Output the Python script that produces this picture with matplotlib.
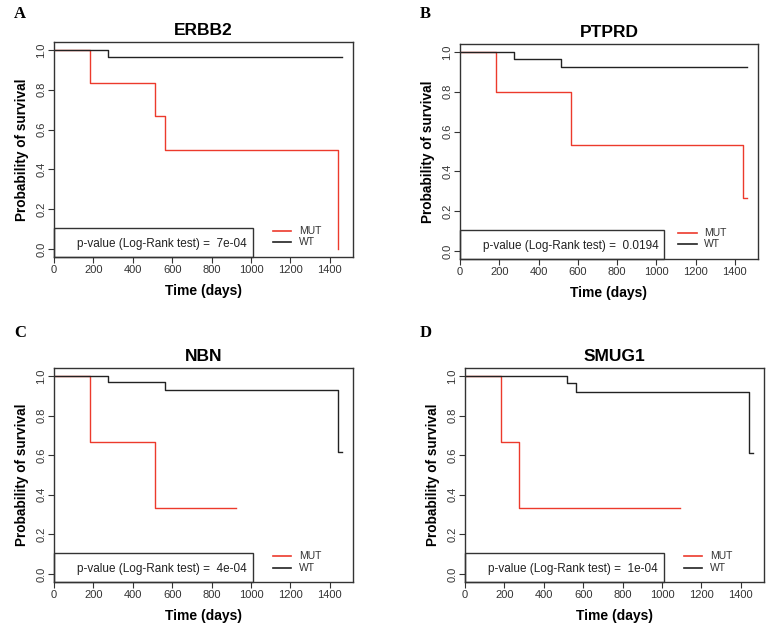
"""
Kaplan-Meier curves, MUT vs WT, four genes
"""

import matplotlib
matplotlib.use('Agg')
from matplotlib import pyplot as plt
from matplotlib.patches import Rectangle

plt.rcParams['font.family'] = ['Liberation Sans', 'DejaVu Sans']

genes = ['ERBB2', 'PTPRD', 'NBN', 'SMUG1']
letters = ['A', 'B', 'C', 'D']
pvalues = ['7e-04', '0.0194', '4e-04', '1e-04']

# step times / survival values
mut_time = [
    [0, 182, 515, 563, 1444],
    [0, 182, 563, 1444, 1460],
    [0, 182, 515, 922],
    [0, 182, 275, 1090],
]
mut_surv = [
    [1.0, 0.833, 0.667, 0.5, 0.0],
    [1.0, 0.8, 0.533, 0.267, 0.267],
    [1.0, 0.667, 0.333, 0.333],
    [1.0, 0.667, 0.333, 0.333],
]
wt_time = [
    [0, 273, 1462],
    [0, 273, 515, 1462],
    [0, 273, 563, 1441, 1461],
    [0, 516, 563, 1443, 1461],
]
wt_surv = [
    [1.0, 0.964, 0.964],
    [1.0, 0.965, 0.926, 0.926],
    [1.0, 0.967, 0.927, 0.617, 0.617],
    [1.0, 0.963, 0.921, 0.612, 0.612],
]

xticks = [0, 200, 400, 600, 800, 1000, 1200, 1400]
yticks = [0.0, 0.2, 0.4, 0.6, 0.8, 1.0]

# layout (figure pixels): left, top, right, bottom
boxes = [(54, 42, 353, 257), (460, 44, 758, 259),
         (54, 368, 353, 582), (465, 368, 764, 582)]
letter_pos = [(14, 14), (420, 14), (14, 333), (420, 333)]
pbox_right = [1010, 1040, 1008, 1008]

W, H = 771, 628
RED = '#ec3a2c'
DARK = '#222222'

fig = plt.figure(figsize=(W / 100, H / 100), dpi=100)

for i, gene in enumerate(genes):
    l, t, r, b = boxes[i]
    ax = fig.add_axes([l / W, 1 - b / H, (r - l) / W, (b - t) / H])

    ax.step(mut_time[i], mut_surv[i], where='post', color=RED, lw=1.0)
    ax.step(wt_time[i], wt_surv[i], where='post', color=DARK, lw=1.0)

    ax.set_xlim(0, 1518)
    ax.set_ylim(-0.04, 1.04)
    ax.set_xticks(xticks)
    ax.set_yticks(yticks)
    ax.set_xticklabels([str(x) for x in xticks], fontsize=8, color='#333333')
    ax.set_yticklabels(['%.1f' % y for y in yticks], fontsize=8, color='#333333',
                       rotation=90, va='center')
    ax.tick_params(direction='out', length=4, width=0.8, color='#333333', pad=1.5)
    for s in ax.spines.values():
        s.set_color('#333333')
        s.set_linewidth(1.0)

    ax.set_title(gene, fontsize=12.5, fontweight='bold', pad=5)
    ax.set_xlabel('Time (days)', fontsize=10, fontweight='bold', labelpad=7)
    ax.set_ylabel('Probability of survival', fontsize=9.8, fontweight='bold', labelpad=5)

    # p-value box
    ax.add_patch(Rectangle((0, -0.04), pbox_right[i], 0.144, fill=False,
                           edgecolor='#333333', lw=1.0, clip_on=False))
    ax.text(pbox_right[i] - 30, 0.025, 'p-value (Log-Rank test) =  ' + pvalues[i],
            fontsize=8.5, ha='right', va='center', color='#222222')

    # legend
    ax.plot([1112, 1205], [0.093, 0.093], color=RED, lw=1.2)
    ax.plot([1112, 1205], [0.033, 0.033], color=DARK, lw=1.2)
    ax.text(1245, 0.093, 'MUT', fontsize=7.5, va='center', color='#333333')
    ax.text(1245, 0.033, 'WT', fontsize=7.5, va='center', color='#333333')

    lx, ly = letter_pos[i]
    fig.text(lx / W, 1 - ly / H, letters[i], fontsize=12, fontweight='bold',
             family='Liberation Serif', ha='left', va='center')

plt.savefig('out.png', dpi=100)
